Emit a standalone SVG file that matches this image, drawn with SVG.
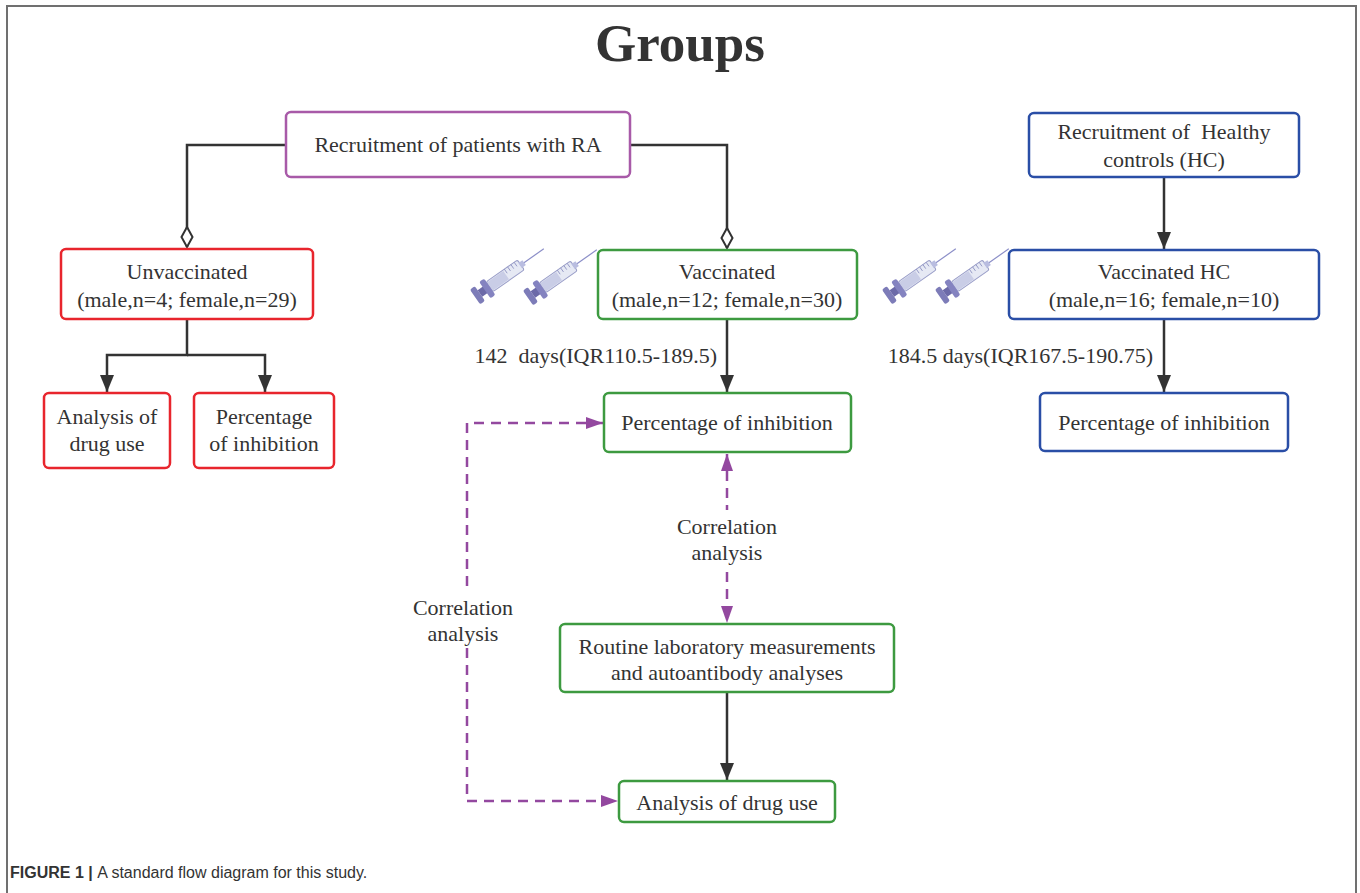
<svg xmlns="http://www.w3.org/2000/svg" width="1360" height="893" viewBox="0 0 1360 893">
<style>
.t{font-family:"Liberation Serif","Times New Roman",serif;font-size:22px;fill:#333;text-anchor:middle;white-space:pre}
.box{fill:#fff;stroke-width:2.5}
.red{stroke:#e8252d}.green{stroke:#3d9a40}.blue{stroke:#2a4ea6}.purple{stroke:#a85aa8}
.solid{fill:none;stroke:#333;stroke-width:2.5}
.dash{fill:none;stroke:#93489f;stroke-width:2.5;stroke-dasharray:10 7}
</style>
<defs>
<marker id="arr" viewBox="0 0 17 14" refX="17" refY="7" markerWidth="17" markerHeight="14" markerUnits="userSpaceOnUse" orient="auto"><path d="M0,0 L17,7 L0,14 z" fill="#333"/></marker>
<marker id="parr" viewBox="0 0 17 12" refX="17" refY="6" markerWidth="17" markerHeight="12" markerUnits="userSpaceOnUse" orient="auto-start-reverse"><path d="M0,0 L17,6 L0,12 z" fill="#93489f"/></marker>
<marker id="dia" viewBox="0 0 22 14" refX="21" refY="7" markerWidth="22" markerHeight="14" markerUnits="userSpaceOnUse" orient="auto"><path d="M1,7 L11,1.5 L21,7 L11,12.5 z" fill="#fff" stroke="#333" stroke-width="2"/></marker>
<g id="syr">
<line x1="58" y1="0" x2="84" y2="0" stroke="#8c8fc8" stroke-width="1.2"/>
<rect x="18" y="-6" width="38" height="12" rx="2" fill="#e6e9f4" stroke="#9a9ec8" stroke-width="1"/>
<rect x="18" y="-5" width="20" height="10" fill="#c9cde6"/>
<g stroke="#8a8fc0" stroke-width="0.8"><line x1="40" y1="-6" x2="40" y2="-1"/><line x1="44" y1="-6" x2="44" y2="-1"/><line x1="48" y1="-6" x2="48" y2="-1"/><line x1="52" y1="-6" x2="52" y2="-1"/></g>
<rect x="55" y="-3" width="5" height="6" fill="#b9bde0"/>
<rect x="0" y="-9" width="6" height="18" rx="2" fill="#7d7cb8"/>
<rect x="6" y="-4" width="7" height="8" fill="#6c6aa8"/>
<rect x="12" y="-10" width="6" height="20" rx="2" fill="#8483c0"/>
</g>
</defs>
<rect x="0" y="0" width="1360" height="893" fill="#fff"/>
<path d="M7,893 V6 H1356 V893" fill="none" stroke="#707070" stroke-width="2"/>
<text x="680" y="61" style="font-family:'Liberation Serif','Times New Roman',serif;font-size:53px;font-weight:bold;fill:#333;text-anchor:middle">Groups</text>

<g id="connectors">
<path class="solid" d="M285,145 H187 V247" marker-end="url(#dia)"/>
<path class="solid" d="M630,145 H727 V248" marker-end="url(#dia)"/>
<path class="solid" d="M187,319 V355 H107 V392" marker-end="url(#arr)"/>
<path class="solid" d="M187,355 H265 V392" marker-end="url(#arr)"/>
<path class="solid" d="M727,319 V392" marker-end="url(#arr)"/>
<path class="solid" d="M727,692 V780" marker-end="url(#arr)"/>
<path class="solid" d="M1164,177 V249" marker-end="url(#arr)"/>
<path class="solid" d="M1164,319 V392" marker-end="url(#arr)"/>
<path class="dash" d="M727,454 V510 M727,572 V623" marker-start="url(#parr)" marker-end="url(#parr)"/>
<path class="dash" d="M603,423 H467 V592 M467,648 V801 H618" marker-start="url(#parr)" marker-end="url(#parr)"/>
<text class="t" x="727" y="534">Correlation</text>
<text class="t" x="727" y="560">analysis</text>
<text class="t" x="463" y="615">Correlation</text>
<text class="t" x="463" y="641">analysis</text>
<text class="t" x="717" y="363" style="text-anchor:end">142  days(IQR110.5-189.5)</text>
<text class="t" x="1153" y="363" style="text-anchor:end">184.5 days(IQR167.5-190.75)</text>
</g>

<g id="syringes">
<use href="#syr" transform="translate(475,297) rotate(-35)"/>
<use href="#syr" transform="translate(528,298) rotate(-35)"/>
<use href="#syr" transform="translate(887,297) rotate(-35)"/>
<use href="#syr" transform="translate(940,297) rotate(-35)"/>
</g>

<g id="ra">
<rect class="box purple" x="286" y="112" width="344" height="65" rx="5"/>
<text class="t" x="458" y="152">Recruitment of patients with RA</text>
</g>
<g id="unvaccinated">
<rect class="box red" x="61" y="249" width="252" height="70" rx="5"/>
<text class="t" x="187" y="279">Unvaccinated</text>
<text class="t" x="187" y="307">(male,n=4; female,n=29)</text>
</g>
<g id="unvac-drug">
<rect class="box red" x="44" y="393" width="126" height="75" rx="5"/>
<text class="t" x="107" y="424">Analysis of</text>
<text class="t" x="107" y="451">drug use</text>
</g>
<g id="unvac-inhib">
<rect class="box red" x="194" y="393" width="140" height="75" rx="5"/>
<text class="t" x="264" y="424">Percentage</text>
<text class="t" x="264" y="451">of inhibition</text>
</g>
<g id="vaccinated">
<rect class="box green" x="598" y="250" width="259" height="69" rx="5"/>
<text class="t" x="727" y="279">Vaccinated</text>
<text class="t" x="727" y="307">(male,n=12; female,n=30)</text>
</g>
<g id="vac-inhib">
<rect class="box green" x="604" y="393" width="247" height="59" rx="5"/>
<text class="t" x="727" y="430">Percentage of inhibition</text>
</g>
<g id="routine">
<rect class="box green" x="560" y="624" width="334" height="68" rx="5"/>
<text class="t" x="727" y="654">Routine laboratory measurements</text>
<text class="t" x="727" y="680">and autoantibody analyses</text>
</g>
<g id="vac-drug">
<rect class="box green" x="619" y="781" width="216" height="41" rx="5"/>
<text class="t" x="727" y="810">Analysis of drug use</text>
</g>
<g id="hc">
<rect class="box blue" x="1029" y="113" width="270" height="64" rx="5"/>
<text class="t" x="1164" y="139">Recruitment of  Healthy</text>
<text class="t" x="1164" y="167">controls (HC)</text>
</g>
<g id="vac-hc">
<rect class="box blue" x="1009" y="250" width="310" height="69" rx="5"/>
<text class="t" x="1164" y="279">Vaccinated HC</text>
<text class="t" x="1164" y="307">(male,n=16; female,n=10)</text>
</g>
<g id="hc-inhib">
<rect class="box blue" x="1040" y="393" width="248" height="58" rx="5"/>
<text class="t" x="1164" y="430">Percentage of inhibition</text>
</g>

<text x="10" y="878" style="font-family:'Liberation Sans',Arial,sans-serif;font-size:16px;fill:#333"><tspan font-weight="bold">FIGURE 1 | </tspan>A standard flow diagram for this study.</text>
</svg>
